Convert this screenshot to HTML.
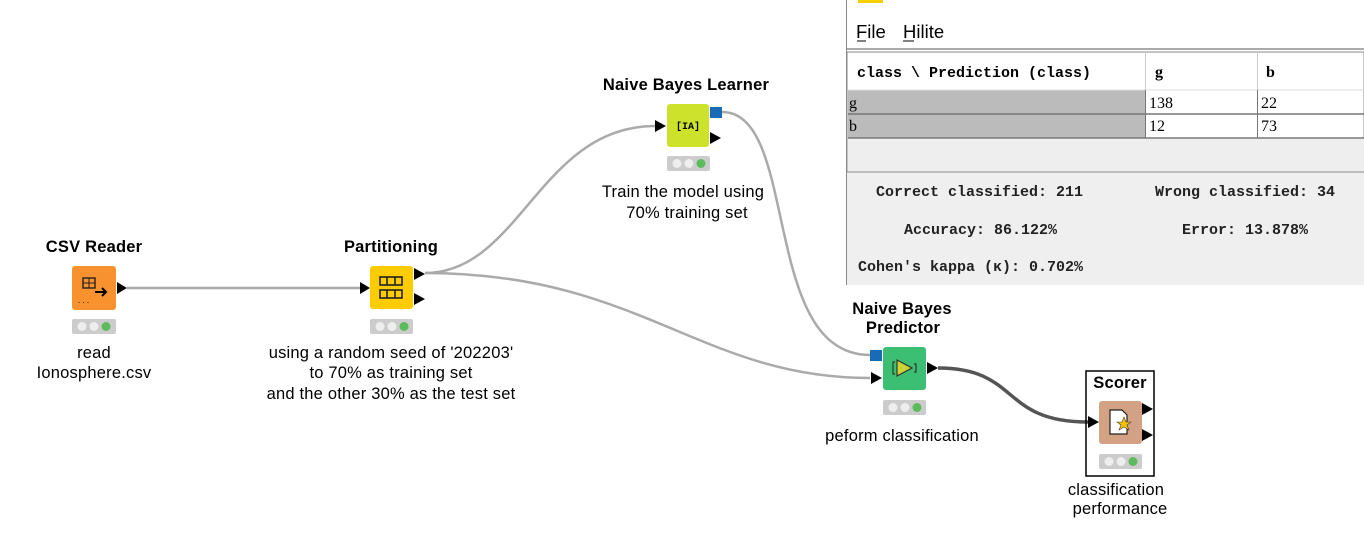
<!DOCTYPE html>
<html><head><meta charset="utf-8"><style>
body{margin:0;width:1364px;height:558px;background:#fff;overflow:hidden;position:relative;font-family:"Liberation Sans",Arial,sans-serif}
svg{position:absolute;left:0;top:0}
</style></head><body>
<svg width="1364" height="558" viewBox="0 0 1364 558" xmlns="http://www.w3.org/2000/svg" font-family="Liberation Sans, Arial, sans-serif">
<g fill="none" stroke="#aaa" stroke-width="2.5">
<path d="M127 288 L360 288"/>
<path d="M425 273 C 520 273, 540 126, 655 126"/>
<path d="M425 273 C 640 273, 700 378, 870 378"/>
<path d="M722 112 C 800 112, 760 355, 870 355"/>
</g>
<path d="M938 368 C 1020 368, 1000 422, 1088 422" fill="none" stroke="#555" stroke-width="3.5"/>

<g font-size="16.5" letter-spacing="0.2">
<text x="94" y="252" font-weight="bold" text-anchor="middle">CSV Reader</text>
<text x="391" y="252" font-weight="bold" text-anchor="middle">Partitioning</text>
<text x="686" y="90" font-weight="bold" text-anchor="middle">Naive Bayes Learner</text>
<text x="902" y="314" font-weight="bold" text-anchor="middle">Naive Bayes</text>
<text x="903" y="333" font-weight="bold" text-anchor="middle">Predictor</text>
<text x="1120" y="388" font-weight="bold" text-anchor="middle">Scorer</text>
<text x="94" y="358" text-anchor="middle">read</text>
<text x="94" y="378" text-anchor="middle">Ionosphere.csv</text>
<text x="391" y="358" text-anchor="middle">using a random seed of '202203'</text>
<text x="391" y="378" text-anchor="middle">to 70% as training set</text>
<text x="391" y="399" text-anchor="middle">and the other 30% as the test set</text>
<text x="683" y="197" text-anchor="middle">Train the model using</text>
<text x="687" y="218" text-anchor="middle">70% training set</text>
<text x="902" y="441" text-anchor="middle">peform classification</text>
<text x="1116" y="495" text-anchor="middle">classification</text>
<text x="1120" y="514" text-anchor="middle">performance</text>
</g>

<!-- CSV Reader -->
<rect x="72" y="266" width="44" height="44" rx="3" fill="#f7922e"/>
<rect x="83" y="278" width="12" height="10" fill="none" stroke="#222" stroke-width="1.4"/>
<line x1="83" y1="283" x2="95" y2="283" stroke="#222"/><line x1="89" y1="278" x2="89" y2="288" stroke="#222"/>
<path d="M95 292 L105 292" stroke="#000" stroke-width="2"/><path d="M102 288 L106 292 L102 296" fill="none" stroke="#000" stroke-width="2"/>
<text x="78" y="303" font-size="8">. . .</text>
<path d="M117 282 L127 288 L117 294Z" fill="#000"/>
<rect x="72" y="319" width="44" height="15" rx="2" fill="#ccc"/>
<circle cx="82" cy="326.5" r="4.5" fill="#eee"/><circle cx="94" cy="326.5" r="4.5" fill="#eee"/><circle cx="106" cy="326.5" r="4.5" fill="#5cbb5c"/>

<!-- Partitioning -->
<path d="M360 282 L370 288 L360 294Z" fill="#000"/>
<rect x="370" y="266" width="43" height="43" rx="3" fill="#fecc00"/>
<g fill="none" stroke="#222" stroke-width="1.6">
<rect x="380" y="277" width="22" height="8"/><line x1="387" y1="277" x2="387" y2="285"/><line x1="395" y1="277" x2="395" y2="285"/>
<rect x="380" y="290" width="22" height="8"/><line x1="387" y1="290" x2="387" y2="298"/><line x1="395" y1="290" x2="395" y2="298"/>
</g>
<path d="M414 268 L425 274 L414 280Z" fill="#000"/><path d="M414 293 L425 299 L414 305Z" fill="#000"/>
<rect x="370" y="319" width="43" height="15" rx="2" fill="#ccc"/>
<circle cx="380" cy="326.5" r="4.5" fill="#eee"/><circle cx="392" cy="326.5" r="4.5" fill="#eee"/><circle cx="404" cy="326.5" r="4.5" fill="#5cbb5c"/>

<!-- Learner -->
<path d="M655 120 L666 126 L655 132Z" fill="#000"/>
<rect x="667" y="104" width="42" height="43" rx="3" fill="#cde22a"/>
<text x="688" y="129" font-size="10" font-weight="bold" text-anchor="middle" font-family="Liberation Mono, monospace">[IA]</text>
<rect x="710" y="107" width="12" height="11" fill="#1a6bb5"/>
<path d="M710 132 L721 138 L710 144Z" fill="#000"/>
<rect x="667" y="156" width="43" height="15" rx="2" fill="#ccc"/>
<circle cx="677" cy="163.5" r="4.5" fill="#eee"/><circle cx="689" cy="163.5" r="4.5" fill="#eee"/><circle cx="701" cy="163.5" r="4.5" fill="#5cbb5c"/>

<!-- Predictor -->
<rect x="870" y="350" width="12" height="11" fill="#1a6bb5"/>
<path d="M871 372 L882 378 L871 384Z" fill="#000"/>
<rect x="883" y="347" width="43" height="43" rx="3" fill="#3dbf73"/>
<path d="M897 360 L912 368 L897 376Z" fill="#c8d534" stroke="#333" stroke-width="1.2"/>
<path d="M895 362 L893 362 L893 374 L895 374 M914 364 L916 364 L916 372 L914 372" fill="none" stroke="#333" stroke-width="1.2"/>
<path d="M927 362 L938 368 L927 374Z" fill="#000"/>
<rect x="883" y="400" width="43" height="15" rx="2" fill="#ccc"/>
<circle cx="893" cy="407.5" r="4.5" fill="#eee"/><circle cx="905" cy="407.5" r="4.5" fill="#eee"/><circle cx="917" cy="407.5" r="4.5" fill="#5cbb5c"/>

<!-- Scorer -->
<rect x="1086" y="371" width="68" height="105" fill="none" stroke="#000" stroke-width="1.5"/>
<path d="M1088 416 L1099 422 L1088 428Z" fill="#000"/>
<rect x="1099" y="401" width="43" height="43" rx="3" fill="#d3a184"/>
<path d="M1110 410 L1122 410 L1127 415 L1127 434 L1110 434Z" fill="#fff" stroke="#222" stroke-width="1.2"/>
<path d="M1124 417 L1126 422 L1131 422 L1127 425 L1129 430 L1124 427 L1119 430 L1121 425 L1117 422 L1122 422Z" fill="#f2c200" stroke="#444" stroke-width="0.6"/>
<path d="M1142 403 L1153 409 L1142 415Z" fill="#000"/><path d="M1142 429 L1153 435 L1142 441Z" fill="#000"/>
<rect x="1099" y="454" width="43" height="15" rx="2" fill="#ccc"/>
<circle cx="1109" cy="461.5" r="4.5" fill="#eee"/><circle cx="1121" cy="461.5" r="4.5" fill="#eee"/><circle cx="1133" cy="461.5" r="4.5" fill="#5cbb5c"/>

<!-- Panel -->
<rect x="846" y="0" width="518" height="285" fill="#fff"/>
<line x1="846.5" y1="0" x2="846.5" y2="285" stroke="#888"/>
<rect x="858" y="0" width="25" height="3" fill="#f5d000"/>
<text x="856" y="38" font-size="18.5">File</text>
<text x="903" y="38" font-size="18.5">Hilite</text>
<line x1="857" y1="41" x2="866" y2="41" stroke="#000"/><line x1="903" y1="41" x2="914" y2="41" stroke="#000"/>
<rect x="847" y="48" width="517" height="2" fill="#aaa"/>
<rect x="847" y="52" width="517" height="120" fill="#fff" stroke="#888"/>
<rect x="848" y="90" width="297" height="48" fill="#bbb"/>
<line x1="848" y1="90" x2="1364" y2="90" stroke="#ddd"/>
<line x1="848" y1="114" x2="1364" y2="114" stroke="#777" stroke-width="1.5"/>
<line x1="848" y1="138" x2="1364" y2="138" stroke="#777" stroke-width="1.5"/>
<rect x="848" y="139" width="516" height="33" fill="#eee"/>
<line x1="1145.5" y1="52" x2="1145.5" y2="138" stroke="#ccc"/>
<line x1="1257.5" y1="52" x2="1257.5" y2="138" stroke="#ccc"/>
<line x1="1145.5" y1="90" x2="1145.5" y2="138" stroke="#777"/>
<line x1="1257.5" y1="90" x2="1257.5" y2="138" stroke="#777"/>
<rect x="847" y="172" width="517" height="113" fill="#efefef"/>
<line x1="847" y1="172" x2="1364" y2="172" stroke="#888"/>
<g font-family="Liberation Serif, serif" font-size="16">
<text x="857" y="77" font-family="Liberation Mono, monospace" font-size="15" font-weight="bold">class \ Prediction (class)</text>
<text x="1155" y="77" font-weight="bold">g</text><text x="1266" y="77" font-weight="bold">b</text>
<text x="849" y="108">g</text><text x="1149" y="108">138</text><text x="1261" y="108">22</text>
<text x="849" y="131">b</text><text x="1149" y="131">12</text><text x="1261" y="131">73</text>
</g>
<g font-family="Liberation Mono, monospace" font-size="15" font-weight="bold" fill="#222">
<text x="876" y="196">Correct classified: 211</text>
<text x="1155" y="196">Wrong classified: 34</text>
<text x="904" y="234">Accuracy: 86.122%</text>
<text x="1182" y="234">Error: 13.878%</text>
<text x="858" y="271">Cohen's kappa (κ): 0.702%</text>
</g>
</svg>
</body></html>
